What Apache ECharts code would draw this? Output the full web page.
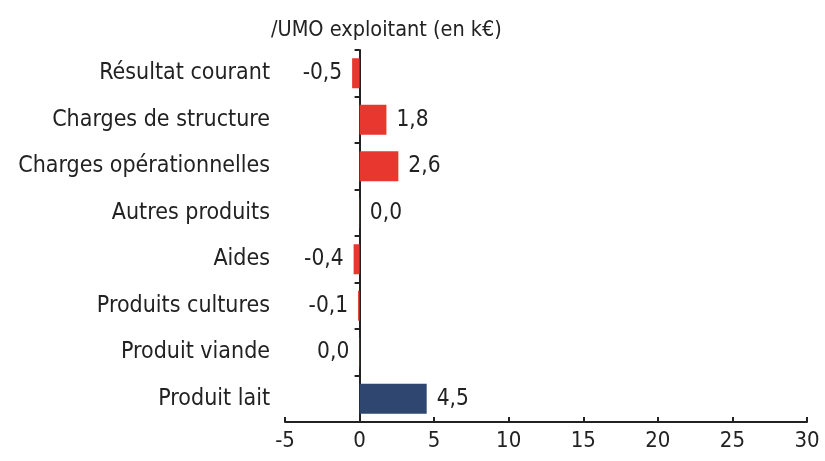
<!DOCTYPE html>
<html>
<head>
<meta charset="utf-8">
<script src="https://cdn.jsdelivr.net/npm/echarts@6/dist/echarts.min.js"></script>
<style>html,body{margin:0;padding:0;background:#fff;}#c{width:825px;height:461px;}</style>
</head>
<body>
<div id="c"></div>
<script>
const categories = ["Résultat courant","Charges de structure","Charges opérationnelles","Autres produits","Aides","Produits cultures","Produit viande","Produit lait"];
const values = [-0.5, 1.8, 2.6, 0.02, -0.4, -0.1, -0.02, 4.5];
const barColors = ["#e8372e","#e8372e","#e8372e","#e8372e","#e8372e","#e8372e","#e8372e","#2e4670"];
const xTicks = [-5, 0, 5, 10, 15, 20, 25, 30];
const titleText = "/UMO exploitant (en k€)";

const FONT = "'DejaVu Sans Condensed', sans-serif";
function fmt(v){
  let s = Math.abs(v).toFixed(1);
  if (s === "0.0") return "0,0";
  return (v < 0 ? "-" : "") + s.replace(".", ",");
}
const chart = echarts.init(document.getElementById('c'), null, {renderer:'canvas'});
chart.setOption({
  backgroundColor: '#ffffff',
  animation: false,
  title: {
    text: titleText, left: 266, top: 14,
    textStyle: {fontFamily: FONT, fontSize: 21.5, fontWeight: 'normal', color: '#222'}
  },
  grid: {left: 285, right: 18, top: 50, bottom: 39, outerBoundsMode: 'none', containLabel: false},
  xAxis: {
    type: 'value', min: xTicks[0], max: xTicks[xTicks.length-1], interval: 5,
    axisLine: {show: true, lineStyle: {color: '#222', width: 2}},
    axisTick: {show: true, inside: true, length: 5, lineStyle: {color: '#222', width: 2}},
    splitLine: {show: false},
    axisLabel: {margin: 8, fontFamily: FONT, fontSize: 22, color: '#222', formatter: v => String(v)}
  },
  yAxis: {
    type: 'category', data: categories, inverse: true,
    axisLine: {show: true, onZero: true, lineStyle: {color: '#222', width: 2}},
    axisTick: {show: true, length: 5, lineStyle: {color: '#222', width: 2}},
    axisLabel: {margin: 15, fontFamily: FONT, fontSize: 23, color: '#222'}
  },
  series: [{
    type: 'bar',
    barWidth: 30,
    data: values.map((v, i) => ({
      value: v,
      itemStyle: {color: barColors[i]},
      label: {position: v < 0 ? 'left' : 'right'}
    })),
    label: {
      show: true, distance: 10, fontFamily: FONT, fontSize: 22.5, color: '#222',
      formatter: p => fmt(p.value)
    }
  }]
});
</script>
</body>
</html>
